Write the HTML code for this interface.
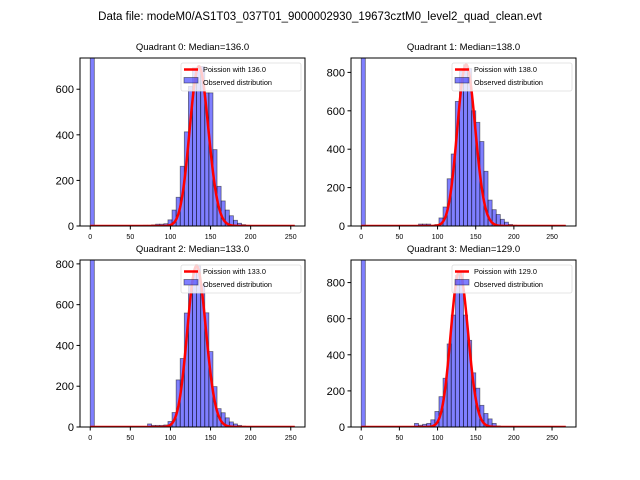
<!DOCTYPE html>
<html><head><meta charset="utf-8"><style>
body{margin:0;background:#fff;}
svg{display:block;font-family:"Liberation Sans","DejaVu Sans",sans-serif;}
</style></head><body>
<svg id="fig" width="640" height="480" viewBox="0 0 640 480">
<rect width="640" height="480" fill="#fff"/>
<text x="320" y="20" text-anchor="middle" font-size="11.5">Data file: modeM0/AS1T03_037T01_9000002930_19673cztM0_level2_quad_clean.evt</text>
</svg>
<script>
const medians=[136,138,133,129];
const dataMax=[255,268,255,268];
const yMaxes=[737,875,819,925];
const yTicks=[[0,200,400,600],[0,200,400,600,800],[0,200,400,600,800],[0,200,400,600,800]];
const xTicks=[0,50,100,150,200,250];
const peakHeights=[700,840,790,860];
const countsQ0=[5000,0,0,0,0,0,0,0,0,0,0,0,2,3,3,5,8,8,10,27,70,126,262,413,613,694,690,700,584,584,335,174,110,70,45,25,12,6,3,2,1,1,1,1,1,1,1,1,1,1];
const countsQ1=[5000,0,0,0,0,0,0,0,0,0,0,0,0,0,10,10,10,3,8,42,99,246,375,649,805,840,820,600,540,440,285,135,85,60,35,20,8,4,2,1,1,1,1,1,1,1,1,1,1,1];
const countsQ2=[5000,0,0,0,0,0,0,0,0,0,0,0,0,0,15,8,8,8,10,27,71,231,336,559,694,760,790,700,560,370,198,90,70,45,25,15,8,4,2,1,1,1,1,1,1,1,1,1,1,1];
const countsQ3=[5000,0,0,0,0,0,0,0,0,0,0,0,3,20,10,15,20,40,86,168,270,460,620,840,860,620,480,300,215,120,75,45,20,6,3,1,1,1,1,1,1,1,1,1,1,1,1,1,1,1];
const allCounts=[countsQ0,countsQ1,countsQ2,countsQ3];

const NS="http://www.w3.org/2000/svg";
const fig=document.getElementById('fig');
const boxes=[[80,58,305,226],[351,58,576,226],[80,260,305,427],[351,260,576,427]];
function mk(tag,attrs,parent){const e=document.createElementNS(NS,tag);for(const k in attrs)e.setAttribute(k,attrs[k]);parent.appendChild(e);return e;}
function logPmf(k,mu){let lf=0;for(let i=2;i<=k;i++)lf+=Math.log(i);return k*Math.log(mu)-mu-lf;}

for(let q=0;q<4;q++){
  const [L,T,R,B]=boxes[q];
  const xmin=-0.05*dataMax[q], xmax=dataMax[q]*1.05;
  const X=v=>L+(v-xmin)/(xmax-xmin)*(R-L);
  const Y=v=>B-v/yMaxes[q]*(B-T);
  const g=mk('g',{},fig);
  
  
  const t=mk('text',{x:(L+R)/2,y:T-8,'text-anchor':'middle','font-size':'9.5'},g);
  t.textContent='Quadrant '+q+': Median='+medians[q].toFixed(1);
  
  
  const cid='clip'+q;
  const cp=mk('clipPath',{id:cid},g);mk('rect',{x:L,y:T,width:R-L,height:B-T},cp);
  const plot=mk('g',{'clip-path':'url(#'+cid+')'},g);
  const counts=allCounts[q];const bw=dataMax[q]/counts.length;
  counts.forEach((c,i)=>{
    const x0=X(i*bw),x1=X((i+1)*bw);
    const r=mk('rect',{x:x0,y:Y(c),width:x1-x0,height:B-Y(c),fill:'rgba(0,0,255,0.5)',stroke:'rgba(0,0,0,0.5)','stroke-width':'0.8'},plot);
    
    
  });
  const mu=medians[q];const lp0=logPmf(Math.round(mu),mu);
  let d='';
  for(let k=0;k<=dataMax[q];k++){const v=peakHeights[q]*Math.exp(logPmf(k,mu)-lp0);d+=(k?'L':'M')+X(k).toFixed(2)+','+Y(v).toFixed(2);}
  const p=mk('path',{d:d,fill:'none',stroke:'#ff0000','stroke-width':'2.5'},plot);
  
  
  const fr=mk('rect',{x:L,y:T,width:R-L,height:B-T,fill:'none',stroke:'#000','stroke-width':'1'},g);
  
  
  xTicks.forEach(v=>{
    mk('line',{x1:X(v),x2:X(v),y1:B,y2:B+3.5,stroke:'#000','stroke-width':'1'},g);
    const tx=mk('text',{x:X(v),y:B+13,'text-anchor':'middle','font-size':'7'},g);tx.textContent=v;
    
    
  });
  yTicks[q].forEach(v=>{
    mk('line',{x1:L-3.5,x2:L,y1:Y(v),y2:Y(v),stroke:'#000','stroke-width':'1'},g);
    const ty=mk('text',{x:L-6,y:Y(v)+4,'text-anchor':'end','font-size':'11'},g);ty.textContent=v;
    
    
  });
  const lg=mk('g',{},g);
  
  
  mk('rect',{x:R-124,y:T+5,width:120,height:28,rx:2,fill:'rgba(255,255,255,0.8)',stroke:'#ddd','stroke-width':'0.8'},lg);
  mk('line',{x1:R-121,x2:R-107,y1:T+11.5,y2:T+11.5,stroke:'#ff0000','stroke-width':'2.5'},lg);
  const l1=mk('text',{x:R-102,y:T+14,'font-size':'7.3'},lg);l1.textContent='Poission with '+medians[q].toFixed(1);
  mk('rect',{x:R-121,y:T+19.5,width:14,height:5.5,fill:'rgba(0,0,255,0.5)',stroke:'rgba(0,0,0,0.5)','stroke-width':'0.8'},lg);
  const l2=mk('text',{x:R-102,y:T+27,'font-size':'7.3'},lg);l2.textContent='Observed distribution';
}
</script>
</body></html>
